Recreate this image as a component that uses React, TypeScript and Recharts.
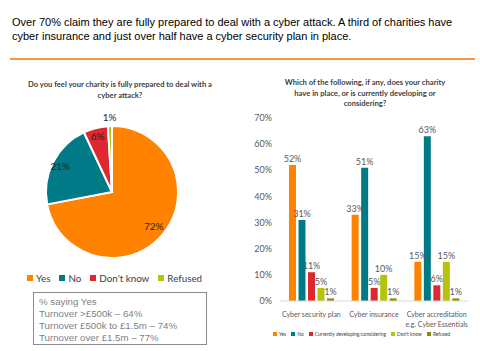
import React from 'react';
import { PieChart, Pie, Cell, BarChart, Bar, XAxis, YAxis, Legend, LabelList } from 'recharts';

// pie: prepared for a cyber attack
const pieLabels = ['Yes', 'No', "Don't know", 'Refused'];
const pieValues = [72, 21, 6, 1];
const pieColors = ['#FF8200', '#007A87', '#DC282E', '#B5C30C'];

// bars: which of these does your charity have
const categories = ['Cyber security plan', 'Cyber insurance', 'Cyber accreditation\ne.g. Cyber Essentials'];
const seriesNames = ['Yes', 'No', 'Currently developing/considering', "Don't know", 'Refused'];
const yesVals = [52, 33, 15];
const noVals = [31, 51, 63];
const devVals = [11, 5, 6];
const dkVals = [5, 10, 15];
const refusedVals = [1, 1, 1];
const barColors = ['#FF8200', '#007A87', '#DC282E', '#B5C30C', '#8C8C00'];
const yTicks = [0, 10, 20, 30, 40, 50, 60, 70];

const turnoverLines = ['% saying Yes', 'Turnover >£500k – 64%', 'Turnover £500k to £1.5m – 74%', 'Turnover over £1.5m – 77%'];

const pieData = pieLabels.map((name, i) => ({ name, value: pieValues[i] }));
const barData = categories.map((name, i) => ({
  name,
  yes: yesVals[i],
  no: noVals[i],
  dev: devVals[i],
  dk: dkVals[i],
  refused: refusedVals[i],
}));
const barKeys = ['yes', 'no', 'dev', 'dk', 'refused'];

const LABEL_FONT = 'Lato, "Open Sans", sans-serif';
const pieTotal = pieValues.reduce((s, v) => s + v, 0);

// label position from the slice's share, clockwise from 12 o'clock
const renderPieLabel = (props: any) => {
  const { cx, cy, outerRadius, index } = props;
  const before = pieValues.slice(0, index).reduce((s, v) => s + v, 0);
  const share = pieValues[index] / pieTotal;
  const mid = ((before / pieTotal) + share / 2) * 2 * Math.PI;
  const r = share < 0.03 ? outerRadius + 9 : outerRadius * (share > 0.5 ? 0.82 : 0.88);
  const x = cx + r * Math.sin(mid);
  const y = cy - r * Math.cos(mid);
  return (
    <text x={x} y={y} textAnchor="middle" dominantBaseline="central" fontSize={10} fill="#262626" fontFamily={LABEL_FONT}>
      {pieValues[index]}%
    </text>
  );
};

const CategoryTick = (props: any) => {
  const { x, y, payload } = props;
  const lines = String(payload.value).split('\n');
  return (
    <text x={x} y={y + 8} textAnchor="middle" fontSize={7} fill="#595959" fontFamily={LABEL_FONT}>
      {lines.map((l, i) => (
        <tspan key={i} x={x} dy={i === 0 ? 0 : 10}>{l}</tspan>
      ))}
    </text>
  );
};

const SwatchLegend = ({ names, colors, size, fontSize, gap }: any) => (
  <div style={{ display: 'flex', gap, fontFamily: LABEL_FONT, fontSize, color: '#404040', whiteSpace: 'nowrap', alignItems: 'center' }}>
    {names.map((n: string, i: number) => (
      <span key={n} style={{ display: 'inline-flex', alignItems: 'center' }}>
        <span style={{ width: size, height: size, background: colors[i], marginRight: size * 0.5, display: 'inline-block' }} />
        {n}
      </span>
    ))}
  </div>
);

export default function App() {
  return (
    <div style={{ position: 'absolute', left: 0, top: 0, width: 480, height: 351, background: '#fff', fontFamily: '"Liberation Sans", Arial, sans-serif', overflow: 'hidden' }}>
      {/* headline */}
      <div style={{ position: 'absolute', left: 12, top: 15, fontSize: 11, lineHeight: '14px', color: '#000', whiteSpace: 'nowrap' }}>
        Over 70% claim they are fully prepared to deal with a cyber attack. A third of charities have<br />
        cyber insurance and just over half have a cyber security plan in place.
      </div>
      <div style={{ position: 'absolute', left: 10, top: 58, width: 465, height: 2, background: '#F79646' }} />

      {/* pie */}
      <div style={{ position: 'absolute', left: 0, top: 79, width: 240, textAlign: 'center', fontFamily: LABEL_FONT, fontWeight: 700, fontSize: 7.6, lineHeight: '11px', color: '#404040' }}>
        Do you feel your charity is fully prepared to deal with a<br />cyber attack?
      </div>
      <div style={{ position: 'absolute', left: 0, top: 110 }}>
        <PieChart width={230} height={180}>
          <Pie
            data={pieData}
            dataKey="value"
            nameKey="name"
            cx={107}
            cy={77}
            outerRadius={66}
            startAngle={90}
            endAngle={-270}
            stroke="#fff"
            strokeWidth={2}
            label={renderPieLabel}
            labelLine={false}
            isAnimationActive={false}
          >
            {pieData.map((_, i) => (
              <Cell key={`cell-${i}`} fill={pieColors[i]} />
            ))}
          </Pie>
          <Legend
            wrapperStyle={{ position: 'absolute', left: 27, top: 162, width: 180 }}
            content={() => <SwatchLegend names={pieLabels} colors={pieColors} size={6} fontSize={9.8} gap={9} />}
          />
        </PieChart>
      </div>

      {/* turnover box */}
      <div style={{ position: 'absolute', left: 33, top: 292, width: 174, height: 53, border: '1px solid #8c8c8c', boxSizing: 'border-box', padding: '3px 0 0 5px', fontSize: 9.7, lineHeight: '12px', color: '#7f7f7f' }}>
        {turnoverLines.map((l, i) => (
          <div key={i}>{l}</div>
        ))}
      </div>

      {/* bar chart */}
      <div style={{ position: 'absolute', left: 240, top: 77, width: 250, textAlign: 'center', fontFamily: LABEL_FONT, fontWeight: 700, fontSize: 7.6, lineHeight: '10.5px', color: '#404040' }}>
        Which of the following, if any, does your charity<br />have in place, or is currently developing or<br />considering?
      </div>
      <div style={{ position: 'absolute', left: 240, top: 110 }}>
        <BarChart width={240} height={235} data={barData} margin={{ top: 8, right: 12, bottom: 14, left: 0 }} barGap={2.5} barSize={7}>
          <XAxis dataKey="name" axisLine={{ stroke: '#d9d9d9' }} tickLine={false} interval={0} height={30} tick={<CategoryTick />} />
          <YAxis
            width={40}
            domain={[0, 70]}
            ticks={yTicks}
            axisLine={false}
            tickLine={false}
            tickFormatter={(v: number) => `${v}%`}
            tick={{ fontSize: 9, fill: '#595959', fontFamily: LABEL_FONT }}
          />
          {barKeys.map((k, i) => (
            <Bar key={k} dataKey={k} name={seriesNames[i]} fill={barColors[i]} isAnimationActive={false}>
              <LabelList dataKey={k} position="top" offset={3} formatter={(v: any) => `${v}%`} style={{ fontSize: 9, fill: '#595959', fontFamily: LABEL_FONT }} />
            </Bar>
          ))}
        </BarChart>
      </div>
      <div style={{ position: 'absolute', left: 273, top: 331 }}>
        <SwatchLegend names={seriesNames} colors={barColors} size={4} fontSize={4.9} gap={5} />
      </div>
    </div>
  );
}
